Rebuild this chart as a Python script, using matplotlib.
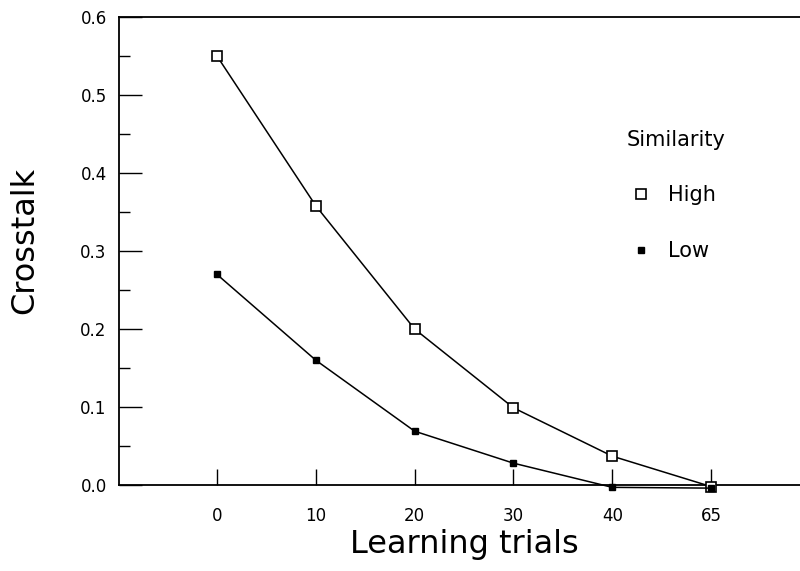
import matplotlib
matplotlib.use("Agg")
import matplotlib.pyplot as plt
from matplotlib.ticker import MultipleLocator, FormatStrFormatter

trials = ["0", "10", "20", "30", "40", "65"]
high = [0.55, 0.358, 0.200, 0.099, 0.037, -0.002]
low = [0.270, 0.160, 0.069, 0.028, -0.003, -0.004]
series_names = ["High", "Low"]
legend_title = "Similarity"
xlabel = "Learning trials"
ylabel = "Crosstalk"

plt.rcParams['font.family'] = ['DejaVu Sans']

fig = plt.figure(figsize=(8.0, 5.71), dpi=100)
ax = fig.add_axes([0.149, 0.1506, 0.851, 0.8194])

x = list(range(len(trials)))
ax.plot(x, high, color='black', lw=1.1, marker='s', markersize=7.2,
        markerfacecolor='white', markeredgecolor='black', markeredgewidth=1.2,
        label=series_names[0], clip_on=False, zorder=3)
ax.plot(x, low, color='black', lw=1.1, marker='s', markersize=4.5,
        markerfacecolor='black', markeredgecolor='black',
        label=series_names[1], clip_on=False, zorder=3)

ax.set_xlim(-0.99, 5.9)
ax.set_ylim(0.0, 0.6)
ax.set_xticks(x)
ax.set_xticklabels(trials)
ax.yaxis.set_major_locator(MultipleLocator(0.1))
ax.yaxis.set_minor_locator(MultipleLocator(0.05))
ax.yaxis.set_major_formatter(FormatStrFormatter('%.1f'))

ax.tick_params(axis='x', direction='in', length=11.5, width=1.0, pad=16, labelsize=12)
ax.tick_params(axis='y', which='major', direction='in', length=16.5, width=1.0, pad=9, labelsize=12)
ax.tick_params(axis='y', which='minor', direction='in', length=8, width=1.0)

for s in ['left', 'bottom', 'top']:
    ax.spines[s].set_linewidth(1.3)
ax.spines['right'].set_visible(False)

ax.set_xlabel(xlabel, fontsize=23)
ax.xaxis.set_label_coords(0.5 + (464 - 459.5) / 681.0, -(545 - 485) / 468.0)
ax.xaxis.label.set_va('center')
ax.set_ylabel(ylabel, fontsize=23)
ax.yaxis.set_label_coords(-(119 - 25) / 681.0, (485 - 240) / 468.0)
ax.yaxis.label.set_va('center')

leg = ax.legend(title=legend_title, frameon=False, fontsize=15, title_fontsize=15,
                loc='center left', bbox_to_anchor=(0.745, 0.619),
                handlelength=0.5, handletextpad=1.0, labelspacing=1.7,
                borderpad=0, borderaxespad=0, numpoints=1)
for h in leg.legend_handles:
    h.set_linestyle('None')
leg.legend_handles[0].set_markersize(6.5)
leg.legend_handles[1].set_markersize(4.5)

fig.savefig("out.png", dpi=100)
